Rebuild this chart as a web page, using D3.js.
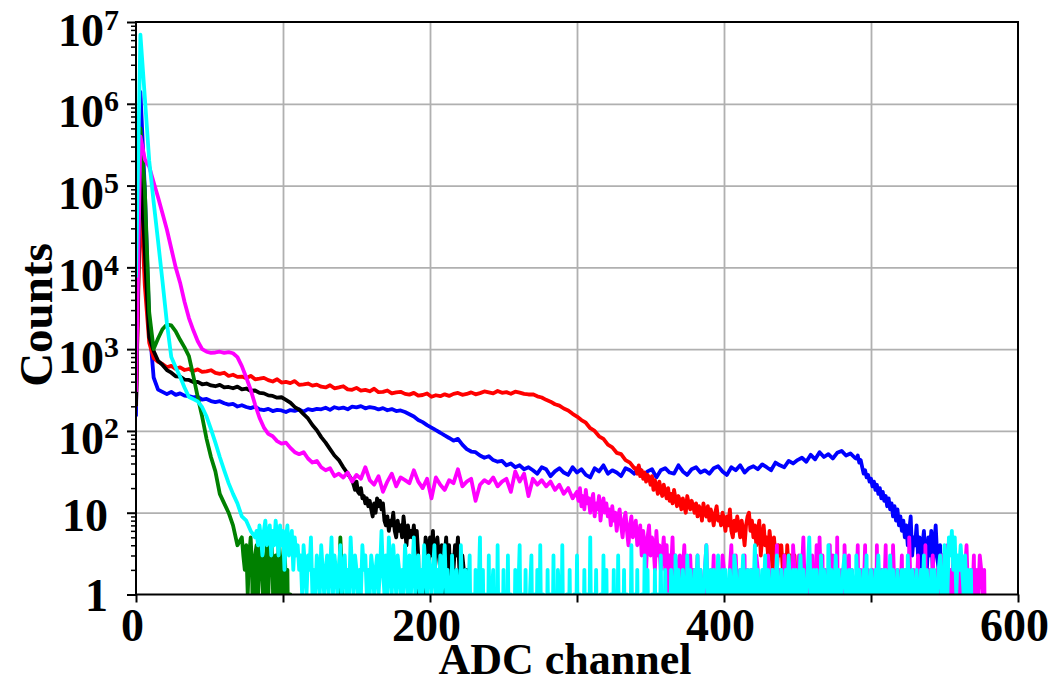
<!DOCTYPE html>
<html>
<head>
<meta charset="utf-8">
<script src="https://cdn.jsdelivr.net/npm/d3@7"></script>
<style>
  body { margin: 0; background: #fff; }
  svg text { font-family: "Liberation Serif", "Times New Roman", serif; font-weight: bold; fill: #000; }
</style>
</head>
<body>
<svg id="chart" width="1053" height="684"></svg>
<script>
// ---- Spectra: counts per ADC channel ----
// "Head" arrays hold counts every HEAD_STEP channels starting at channel 0;
// "tail" arrays hold one count per channel starting at the given channel.
const HEAD_STEP = 3;

const redHead = [
  200, 90000, 6000, 1200, 780, 700, 660, 600, 625, 575,
  598, 556, 572, 541, 566, 528, 534, 552, 512, 498,
  515, 470, 486, 458, 462, 441, 472, 428, 436, 446,
  418, 402, 428, 390, 397, 384, 407, 366, 372, 380,
  358, 368, 347, 340, 362, 332, 341, 352, 322, 318,
  336, 312, 318, 305, 328, 298, 300, 312, 288, 296,
  301, 284, 278, 292, 270, 275, 287, 262, 273, 266,
  280, 268, 284, 291, 276, 283, 296, 280, 290, 304,
  296, 288, 308, 292, 298, 285, 302, 294, 284, 279,
  280, 265, 256, 240, 228, 212, 204, 188, 178, 162,
  150, 136, 126, 108, 100, 86, 80, 68, 63, 54,
  52, 44, 41, 35
];
const redTailStart = 340;
const redTail = [
  35,30,38,28,33,26,31,24,29,27,
  22,28,19,25,21,17,24,19,16,22,
  18,15,20,14,17,13,19,15,12,16,
  14,11,15,12,10,16,13,11,14,12,
  10,13,9,12,11,8,13,10,9,12,
  8,11,9,7,10,12,8,9,7,10,
  8,6,9,7,11,6,5,8,6,9,
  7,5,8,6,4,7,9,10,6,8,
  5,7,4,6,8,3,5,7,4,5,
  3,6,4,2,5,3,2,4,3,4,
  2,3,1,4,2,3,1,2,3,1,
  2,0,1,3,1,2,0,1,2,1,
  0,1,0
];

const blueHead = [
  150, 1400000, 90000, 2000, 450, 320, 300, 282, 300, 276,
  288, 270, 266, 258, 262, 241, 246, 232, 225, 231,
  218, 210, 214, 199, 206, 196, 190, 198, 184, 180,
  186, 175, 181, 178, 170, 180, 176, 183, 172, 185,
  180, 186, 184, 192, 181, 195, 188, 193, 184, 198,
  194, 201, 189, 196, 192, 183, 190, 179, 185, 175,
  178, 170, 160, 150, 136, 128, 118, 110, 102, 95,
  88, 82, 76, 80, 68, 60, 56, 55, 50, 47,
  49, 44, 42, 43, 38, 40, 36, 38, 34, 36,
  33, 30, 36, 34, 28, 32, 35, 31, 29, 36,
  31, 34, 29, 27, 35, 32, 38, 30, 33, 31,
  28, 35, 33, 30, 36, 29, 32, 34, 27, 33,
  35, 31, 30, 38, 32, 29, 34, 36, 31, 33,
  30, 35, 37, 32, 29, 36, 33, 38, 31, 35,
  37, 34, 39, 36, 33, 41, 38, 36, 43, 40,
  44, 47, 42, 51, 45, 55, 48, 52, 46, 54,
  57, 50, 53, 47
];
const blueTailStart = 490;
const blueTail = [
  46,50,41,44,36,30,33,27,29,24,
  26,21,24,19,22,17,20,15,18,14,
  16,12,15,11,13,9,12,8,11,7,
  9,6,8,5,7,4,6,9,3,5,
  4,7,3,5,2,4,6,3,2,5,
  3,6,2,4,7,3,2,4,1,3,
  2,1,0
];

const blackHead = [
  200, 200000, 15000, 1400, 950, 720, 640, 555, 515, 465,
  462, 425, 420, 395, 398, 372, 380, 360, 352, 366,
  340, 345, 332, 348, 322, 330, 310, 312, 292, 288,
  272, 268, 255, 258, 240, 222, 196, 182, 160, 142,
  118, 102, 84, 72, 60, 50, 44, 36, 30, 25
];
const blackTailStart = 148;
const blackTail = [
  22,19,24,18,17,20,15,16,13,15,
  12,14,11,9,13,10,15,12,14,11,
  13,8,7,9,6,8,7,10,6,5,
  8,6,7,5,9,6,4,7,5,6,
  5,7,4,6,3,0,1,0,2,5,
  4,2,5,3,6,2,4,5,3,2,
  4,1,3,5,2,4,1,3,2,4,
  3,5,2,1,3,2,1,2,0
];

const greenHead = [
  450, 500000, 90000, 2800, 1000, 1350, 1750, 2000, 1950, 1650,
  1300, 1050, 820, 470, 260, 150, 80, 48, 32, 17,
  13, 10, 7, 4
];
const greenTailStart = 72;
const greenTail = [
  5,3,2,4,1,3,5,2,0,3,
  4,1,2,5,3,0,2,4,1,3,
  5,2,0,3,1,4,2,0,3,5,
  1,2,0,1,0,0,0,0,0,0,
  0,0,0,0,0,0,0,0,0,0,
  0,0,0,0,0,0,0,0,0,0,
  0,0,0,0,0,0,1,5,2,0
];

const magentaHead = [
  300, 400000, 210000, 170000, 110000, 72000, 46000, 29000, 17000, 10000,
  6500, 3800, 2400, 1700, 1250, 1000, 930, 900, 910, 930,
  900, 920, 890, 800, 620, 450, 320, 210, 145, 110,
  92, 86, 75, 70, 72, 62, 55, 52, 55, 46,
  41, 43, 36, 33, 35, 28, 30, 27, 31, 24,
  29, 26, 36, 25, 22, 28, 18, 24, 30, 21,
  27, 25, 23, 33, 24, 20, 26, 15, 27, 22,
  19, 25, 23, 34, 21, 24, 26, 14, 22, 25,
  23, 27, 21, 24, 26, 18, 32, 24, 30, 16,
  26, 22, 25, 21, 24, 19, 22, 17, 20, 15
];
const magentaTailStart = 300;
const magentaTail = [
  18,14,20,12,16,11,19,13,15,10,
  14,17,9,13,11,16,8,12,15,10,
  13,9,11,7,12,8,10,6,9,11,
  7,5,8,10,6,4,7,9,5,6,
  8,4,5,7,3,6,4,2,5,7,
  3,5,4,2,6,3,4,2,3,5,
  2,4,1,3,2,5,1,3,2,0,
  3,1,2,4,1,0,2,3,1,2,
  0,1,3,0,2,1,0,2,4,1,
  0,2,1,3,0,1,2,0,1,3,
  2,0,1,0,2,4,1,0,3,1,
  0,2,0,1,3,0,2,1,0,2,
  1,0,3,2,0,1,0,2,1,0,
  3,1,0,2,0,1,4,0,2,1,
  0,3,1,2,0,1,0,4,2,0,
  1,3,0,2,5,1,0,2,1,0,
  3,0,1,4,0,5,1,3,0,2,
  0,1,4,0,3,1,0,5,0,1,
  2,0,4,1,0,3,0,2,1,0,
  1,4,0,2,0,1,4,0,2,1,
  0,2,1,0,4,0,1,2,0,1,
  4,0,2,1,0,4,1,0,2,0,
  1,3,0,1,2,0,5,1,0,2,
  0,1,3,0,2,1,0,4,0,1,
  2,0,3,1,0,2,1,0,3,2,
  0,1,4,0,2,1,3,0,1,2,
  0,3,1,0,2,4,1,0,2,1,
  3,0,2,1,3,2,1,2,0
];

const cyanHead = [
  7500, 7000000, 1200000, 200000, 63000, 21000, 6800, 2100, 800, 600,
  460, 340, 260, 245, 230, 195, 150, 105, 72, 48,
  33, 23, 17, 13, 9, 8, 6, 5
];
const cyanTailStart = 82;
const cyanTail = [
  6,4,7,5,3,6,8,4,5,7,
  3,6,4,8,5,3,7,4,6,2,
  5,7,3,4,6,2,5,3,4,2,
  3,1,4,2,1,3,2,5,1,2,
  1,3,2,1,4,2,1,2,3,1,
  2,5,1,3,2,1,2,4,1,2,
  3,1,2,1,5,2,1,3,2,1,
  2,1,4,2,3,1,2,1,3,2,
  1,2,3,1,2,6,2,1,3,1,
  5,2,1,4,2,1,3,2,1,2,
  1,4,2,1,3,1,2,5,1,2,
  3,1,2,1,4,2,1,3,2,1,
  2,4,1,2,1,3,1,2,4,1,
  2,1,0,3,1,0,2,1,0,4,
  1,0,2,0,1,3,0,1,0,2,
  0,1,5,0,2,0,1,0,3,0,
  1,2,0,0,4,0,1,0,2,0,
  0,3,0,1,0,0,2,0,1,4,
  0,1,0,2,0,0,1,3,0,1,
  0,2,0,4,0,1,0,0,2,0,
  1,0,3,0,0,2,1,0,4,0,
  0,1,0,2,0,0,1,0,3,0,
  1,0,0,2,0,1,0,5,0,1,
  0,2,0,0,1,0,3,0,2,0,
  0,1,0,2,0,0,3,0,1,0,
  2,0,1,0,0,4,0,1,0,2,
  0,0,1,0,3,0,2,0,0,1,
  0,2,0,1,0,3,0,0,2,0,
  1,0,2,1,0,3,1,2,0,1,
  2,1,0,3,1,2,1,0,2,1,
  3,1,2,0,1,2,4,1,0,2,
  1,2,0,1,3,1,0,2,1,2,
  0,1,2,1,0,3,2,1,0,2,
  1,3,1,0,2,1,2,0,1,4,
  1,2,0,1,2,1,3,0,2,1,
  0,2,1,1,3,0,1,2,1,0,
  2,1,3,1,0,2,1,2,0,1,
  3,1,2,0,1,2,5,1,0,2,
  1,2,1,0,3,1,2,1,0,4,
  1,2,0,1,3,1,2,0,1,2,
  3,1,0,2,1,2,1,0,3,1,
  2,0,1,2,1,3,0,1,2,1,
  0,2,1,3,1,0,2,1,2,0,
  1,3,1,2,0,1,2,1,0,2,
  1,2,0,3,1,1,2,0,1,2,
  0,1,2,1,3,0,2,1,0,2,
  1,2,0,1,2,3,1,0,4,2,
  1,5,3,6,2,5,1,3,2,4,
  2,1,3,1,2,1,2,0
];

// Drawing order (later series are drawn on top)
const seriesNames  = ["blue", "red", "black", "green", "magenta", "cyan"];
const seriesColors = ["#0000ff", "#ff0000", "#000000", "#008000", "#ff00ff", "#00ffff"];
const seriesHeads  = [blueHead, redHead, blackHead, greenHead, magentaHead, cyanHead];
const seriesTailStarts = [blueTailStart, redTailStart, blackTailStart, greenTailStart, magentaTailStart, cyanTailStart];
const seriesTails  = [blueTail, redTail, blackTail, greenTail, magentaTail, cyanTail];

// ---- Axes definitions ----
const xDomain = [0, 600];
const xTicks = [0, 100, 200, 300, 400, 500, 600];
const xTickLabels = ["0", "", "200", "", "400", "", "600"];
const yDomain = [1, 1e7];
const yTicks = [1, 10, 100, 1e3, 1e4, 1e5, 1e6, 1e7];
const yTickBase = ["1", "10", "10", "10", "10", "10", "10", "10"];
const yTickExp  = ["", "", "2", "3", "4", "5", "6", "7"];
const xTitle = "ADC channel";
const yTitle = "Counts";

// ---- Layout ----
const W = 1053, H = 684;
const L = 136, R = 1018, T = 22, B = 594.5;

const svg = d3.select("#chart");
svg.append("rect").attr("width", W).attr("height", H).attr("fill", "#fff");

const x = d3.scaleLinear().domain(xDomain).range([L, R]);
const y = d3.scaleLog().domain(yDomain).range([B, T]);

svg.append("defs").append("clipPath").attr("id", "plotArea")
  .append("rect").attr("x", L).attr("y", T).attr("width", R - L).attr("height", B - T);

// Grid
const gridX = svg.append("g").attr("transform", `translate(0,${B})`)
  .call(d3.axisBottom(x).tickValues(xTicks.slice(1, -1)).tickSize(-(B - T)).tickFormat(""));
gridX.select(".domain").remove();
gridX.selectAll(".tick line").attr("stroke", "#b0b0b0").attr("stroke-width", 1.8);

const gridY = svg.append("g").attr("transform", `translate(${L},0)`)
  .call(d3.axisLeft(y).tickValues(yTicks.slice(1, -1)).tickSize(-(R - L)).tickFormat(""));
gridY.select(".domain").remove();
gridY.selectAll(".tick line").attr("stroke", "#b0b0b0").attr("stroke-width", 1.8);

// Series
function toPoints(head, tailStart, tail) {
  const pts = head.map((c, i) => [i * HEAD_STEP, c]);
  tail.forEach((c, i) => pts.push([tailStart + i, c]));
  return pts;
}
const line = d3.line()
  .x(d => x(d[0]))
  .y(d => y(Math.max(d[1], 0.05)));   // empty channels fall below the axis and are clipped

const plot = svg.append("g").attr("clip-path", "url(#plotArea)");
seriesNames.forEach((name, k) => {
  plot.append("path")
    .datum(toPoints(seriesHeads[k], seriesTailStarts[k], seriesTails[k]))
    .attr("class", "spectrum " + name)
    .attr("fill", "none")
    .attr("stroke", seriesColors[k])
    .attr("stroke-width", 3.8)
    .attr("stroke-linejoin", "round")
    .attr("d", line);
});

// Frame
svg.append("rect").attr("x", L).attr("y", T).attr("width", R - L).attr("height", B - T)
  .attr("fill", "none").attr("stroke", "#000").attr("stroke-width", 2);

// X axis ticks and labels
const gx = svg.append("g").attr("transform", `translate(0,${B})`)
  .call(d3.axisBottom(x).tickValues(xTicks).tickSize(8).tickFormat((d, i) => xTickLabels[i]));
gx.select(".domain").remove();
gx.selectAll(".tick line").attr("stroke", "#000").attr("stroke-width", 2);
gx.selectAll(".tick text")
  .attr("y", 46.5).attr("dy", null).attr("dx", -4)
  .attr("font-size", 46).attr("fill", "#000");

// Y axis: minor ticks
const minor = y.ticks().filter(v => !yTicks.includes(v));
const gyMinor = svg.append("g").attr("transform", `translate(${L},0)`)
  .call(d3.axisLeft(y).tickValues(minor).tickSize(5).tickFormat(""));
gyMinor.select(".domain").remove();
gyMinor.selectAll(".tick line").attr("stroke", "#000").attr("stroke-width", 1.5);

// Y axis: major ticks with power-of-ten labels
const gy = svg.append("g").attr("transform", `translate(${L},0)`)
  .call(d3.axisLeft(y).tickValues(yTicks).tickSize(9).tickFormat(""));
gy.select(".domain").remove();
gy.selectAll(".tick line").attr("stroke", "#000").attr("stroke-width", 2);
gy.selectAll(".tick text").remove();
gy.selectAll(".tick").each(function (d, i) {
  const g = d3.select(this);
  if (yTickExp[i] === "") {
    g.append("text").attr("x", -28).attr("y", i === 0 ? 16 : 18)
      .attr("text-anchor", "end").attr("font-size", 46).text(yTickBase[i]);
  } else {
    const t = g.append("text").attr("x", -17).attr("y", 23)
      .attr("text-anchor", "end").attr("font-size", 46);
    t.append("tspan").text(yTickBase[i]);
    t.append("tspan").attr("dy", -16).attr("font-size", 30).text(yTickExp[i]);
  }
});

// Axis titles
svg.append("text").attr("x", 565).attr("y", 674).attr("text-anchor", "middle")
  .attr("font-size", 44).text(xTitle);
svg.append("text").attr("transform", "translate(52,315) rotate(-90)")
  .attr("text-anchor", "middle").attr("font-size", 47).text(yTitle);
</script>
</body>
</html>
